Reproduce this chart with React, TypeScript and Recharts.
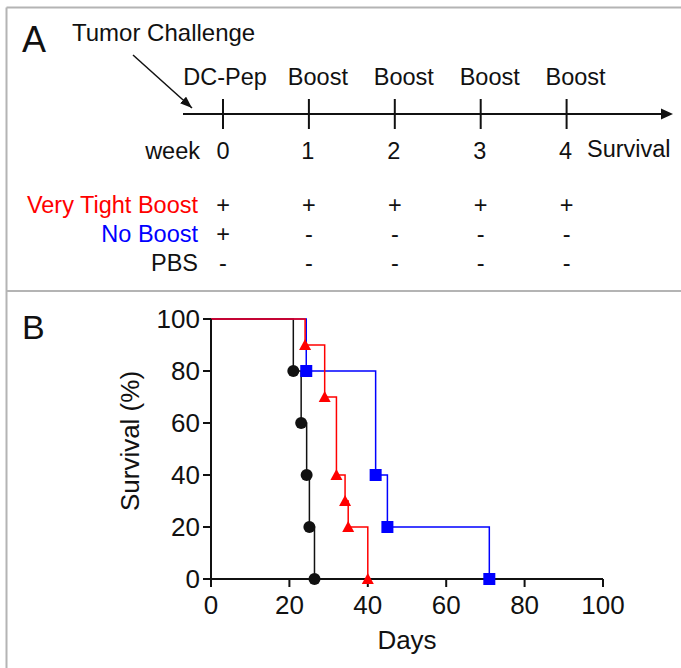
import { ComposedChart, Line, Scatter, XAxis, YAxis, Label } from "recharts";

const FONT = '"Liberation Sans", Arial, Helvetica, sans-serif';
const INK = "#111";
const RED = "#ff0000";
const BLUE = "#0000ff";
const FRAME = "#b4b4b4";

// panel A: schedule
const weeks = [0, 1, 2, 3, 4];
const stepLabels = ["DC-Pep", "Boost", "Boost", "Boost", "Boost"];
const veryTightSigns = ["+", "+", "+", "+", "+"];
const noBoostSigns = ["+", "-", "-", "-", "-"];
const pbsSigns = ["-", "-", "-", "-", "-"];

// panel B: survival (Kaplan-Meier steps)
const pbsDays = [0, 21, 23, 24.4, 25.1, 26.4];
const pbsSurvival = [100, 80, 60, 40, 20, 0];
const veryTightDays = [0, 24, 29, 32, 34.2, 35, 40];
const veryTightSurvival = [100, 90, 70, 40, 30, 20, 0];
const noBoostDays = [0, 24.3, 42, 45, 71];
const noBoostSurvival = [100, 80, 40, 20, 0];
const dayTicks = [0, 20, 40, 60, 80, 100];
const survivalTicks = [0, 20, 40, 60, 80, 100];

// vertical lanes of panel A (px from top)
const lane = { step: 85, axis: 114, week: 159, veryTight: 213, noBoost: 242, pbs: 271 };

const rowOf = (texts: string[], y: number) =>
  weeks.map((w, i) => ({ week: w, lane: y, text: texts[i] }));

const toSeries = (days: number[], surv: number[]) =>
  days.map((d, i) => ({ day: d, survival: surv[i] }));

const textShape = (size: number, dx: (w: number) => number) => (p: any) => (
  <text
    x={p.cx + dx(p.payload.week)}
    y={p.cy}
    textAnchor="middle"
    fontSize={size}
    fontFamily={FONT}
    fill={INK}
  >
    {p.payload.text}
  </text>
);

const tickShape = (p: any) => (
  <line x1={p.cx} x2={p.cx} y1={p.cy - 15} y2={p.cy + 15} stroke={INK} strokeWidth={2} />
);

const circleDot = (p: any) =>
  p.index === 0 ? <g key={p.key} /> : <circle key={p.key} cx={p.cx} cy={p.cy} r={6} fill={INK} />;

const squareDot = (p: any) =>
  p.index === 0 ? (
    <g key={p.key} />
  ) : (
    <rect key={p.key} x={p.cx - 6} y={p.cy - 6} width={12} height={12} fill={BLUE} />
  );

const triangleDot = (p: any) =>
  p.index === 0 ? (
    <g key={p.key} />
  ) : (
    <polygon
      key={p.key}
      points={`${p.cx},${p.cy - 6} ${p.cx - 6},${p.cy + 5} ${p.cx + 6},${p.cy + 5}`}
      fill={RED}
    />
  );

const ScheduleChart = () => (
  <ComposedChart width={681} height={290} margin={{ top: 0, right: 0, bottom: 0, left: 0 }}>
    <XAxis type="number" dataKey="week" domain={[-223 / 85.9, 458 / 85.9]} allowDataOverflow hide />
    <YAxis type="number" dataKey="lane" domain={[0, 290]} reversed allowDataOverflow hide />
    <Scatter
      data={rowOf(stepLabels, lane.step)}
      shape={textShape(23.5, (w) => (w === 0 ? 2 : 9))}
      isAnimationActive={false}
    />
    <Scatter data={rowOf(stepLabels, lane.axis)} shape={tickShape} isAnimationActive={false} />
    <Scatter
      data={rowOf(weeks.map(String), lane.week)}
      shape={textShape(23.5, (w) => (w === 0 ? 0 : -1))}
      isAnimationActive={false}
    />
    <Scatter data={rowOf(veryTightSigns, lane.veryTight)} shape={textShape(23.5, () => 0)} isAnimationActive={false} />
    <Scatter data={rowOf(noBoostSigns, lane.noBoost)} shape={textShape(23.5, () => 0)} isAnimationActive={false} />
    <Scatter data={rowOf(pbsSigns, lane.pbs)} shape={textShape(23.5, () => 0)} isAnimationActive={false} />
  </ComposedChart>
);

const SurvivalChart = () => (
  <ComposedChart width={681} height={668} margin={{ top: 319, right: 78, bottom: 19, left: 151 }}>
    <XAxis
      type="number"
      dataKey="day"
      domain={[0, 100]}
      ticks={dayTicks}
      interval={0}
      height={70}
      tickSize={8}
      tickMargin={9}
      axisLine={{ stroke: INK, strokeWidth: 2 }}
      tickLine={{ stroke: INK, strokeWidth: 2 }}
      tick={{ fill: INK, fontSize: 26, fontFamily: FONT }}
    >
      <Label value="Days" position="insideBottom" offset={0} fill={INK} fontSize={26} fontFamily={FONT} />
    </XAxis>
    <YAxis
      type="number"
      domain={[0, 100]}
      ticks={survivalTicks}
      interval={0}
      width={60}
      tickSize={8}
      tickMargin={3}
      axisLine={{ stroke: INK, strokeWidth: 2 }}
      tickLine={{ stroke: INK, strokeWidth: 2 }}
      tick={{ fill: INK, fontSize: 26, fontFamily: FONT }}
    >
      <Label
        content={(p: any) => {
          const x = p.viewBox.x - 12.5;
          const y = p.viewBox.y + p.viewBox.height / 2 - 8;
          return (
            <text
              x={x}
              y={y}
              transform={`rotate(-90 ${x} ${y})`}
              textAnchor="middle"
              fill={INK}
              fontSize={26}
              fontFamily={FONT}
            >
              Survival (%)
            </text>
          );
        }}
      />
    </YAxis>
    <Line
      data={toSeries(pbsDays, pbsSurvival)}
      dataKey="survival"
      type="stepAfter"
      stroke={INK}
      strokeWidth={1.5}
      dot={circleDot}
      activeDot={false}
      isAnimationActive={false}
    />
    <Line
      data={toSeries(noBoostDays, noBoostSurvival)}
      dataKey="survival"
      type="stepAfter"
      stroke={BLUE}
      strokeWidth={1.5}
      dot={squareDot}
      activeDot={false}
      isAnimationActive={false}
    />
    <Line
      data={toSeries(veryTightDays, veryTightSurvival)}
      dataKey="survival"
      type="stepAfter"
      stroke={RED}
      strokeWidth={1.5}
      dot={triangleDot}
      activeDot={false}
      isAnimationActive={false}
    />
  </ComposedChart>
);

export default function App() {
  const txt = { fontFamily: FONT, fill: INK };
  return (
    <div style={{ position: "absolute", left: 0, top: 0, width: 681, height: 668, background: "#fff" }}>
      <svg width={681} height={668} style={{ position: "absolute", left: 0, top: 0 }}>
        <defs>
          <marker id="head" markerWidth="12" markerHeight="9" refX="12" refY="4.5" orient="auto" markerUnits="userSpaceOnUse">
            <path d="M0,0 L12,4.5 L0,9 z" fill={INK} />
          </marker>
        </defs>
        <line x1={6.5} y1={7.5} x2={681} y2={7.5} stroke={FRAME} strokeWidth={2} />
        <line x1={6.5} y1={7.5} x2={6.5} y2={668} stroke={FRAME} strokeWidth={2} />
        <line x1={6.5} y1={291} x2={681} y2={291} stroke={FRAME} strokeWidth={2} />
        <text x={22} y={52} fontSize={36} {...txt}>A</text>
        <text x={72} y={41} fontSize={24} {...txt}>Tumor Challenge</text>
        <line x1={133} y1={55} x2={192} y2={108} stroke={INK} strokeWidth={1.5} markerEnd="url(#head)" />
        <line x1={183} y1={114} x2={662} y2={114} stroke={INK} strokeWidth={2} />
        <polygon points="673,114 661,108.5 661,119.5" fill={INK} />
        <text x={200} y={159} textAnchor="end" fontSize={23.5} {...txt}>week</text>
        <text x={587} y={157} fontSize={23.5} {...txt}>Survival</text>
        <text x={198} y={lane.veryTight} textAnchor="end" fontSize={23.5} fontFamily={FONT} fill={RED}>Very Tight Boost</text>
        <text x={198} y={lane.noBoost} textAnchor="end" fontSize={23.5} fontFamily={FONT} fill={BLUE}>No Boost</text>
        <text x={198} y={lane.pbs} textAnchor="end" fontSize={23.5} {...txt}>PBS</text>
        <text x={22} y={339} fontSize={34} {...txt}>B</text>
      </svg>
      <div style={{ position: "absolute", left: 0, top: 0 }}>
        <ScheduleChart />
      </div>
      <div style={{ position: "absolute", left: 0, top: 0 }}>
        <SurvivalChart />
      </div>
    </div>
  );
}
